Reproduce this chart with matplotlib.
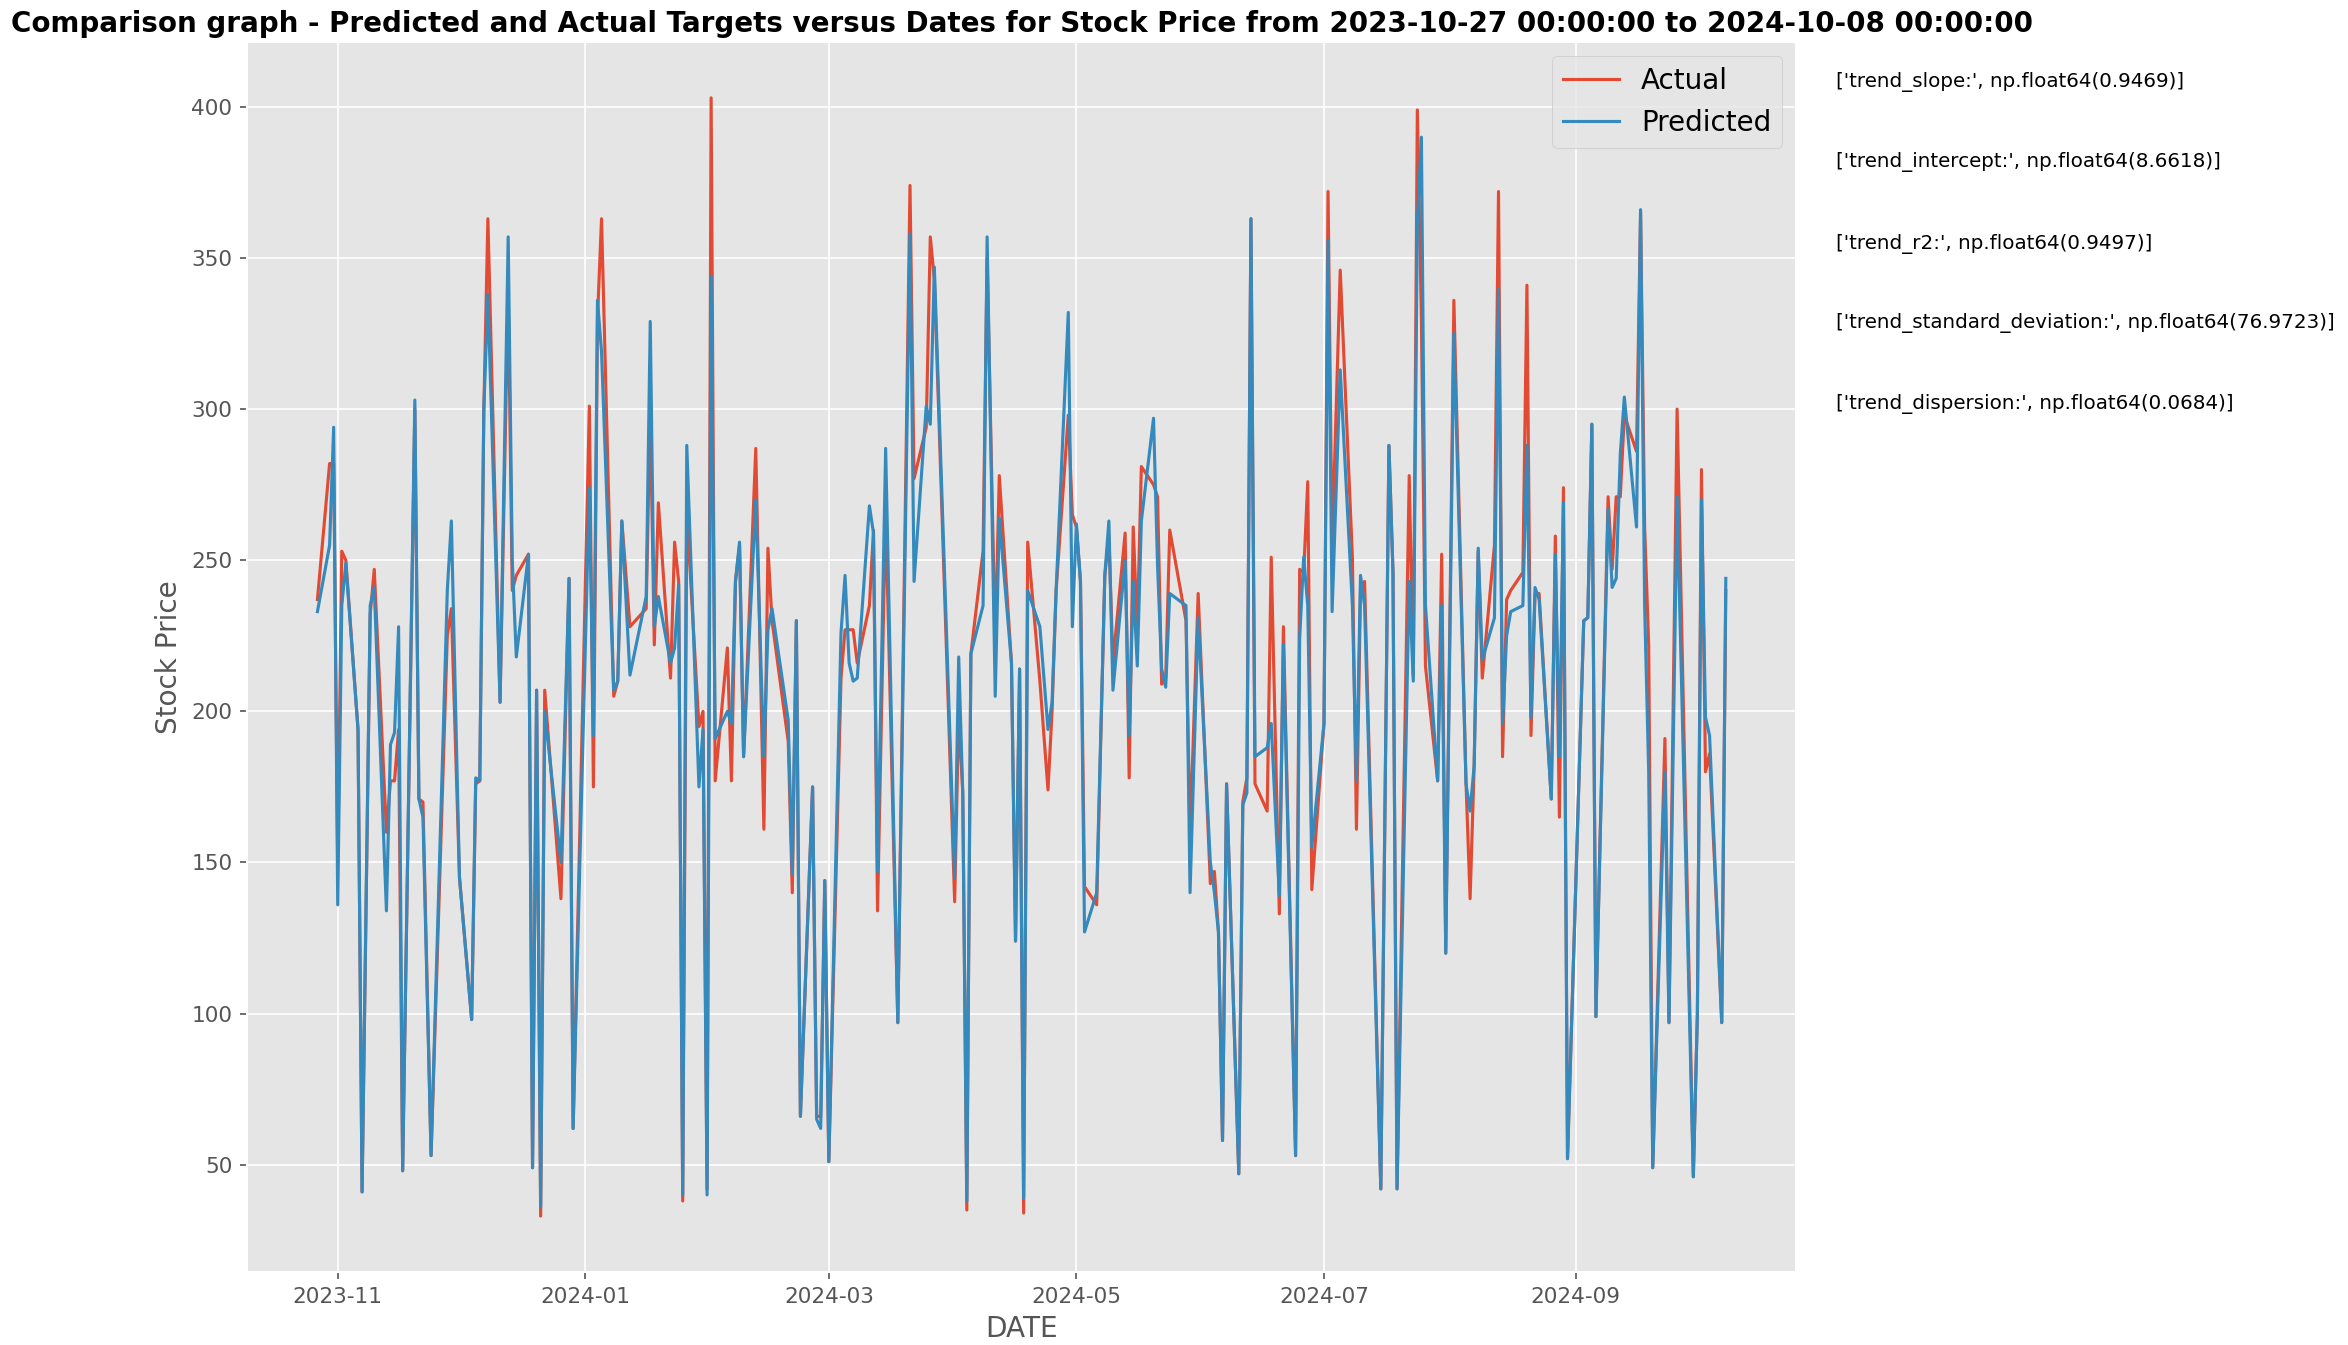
import matplotlib
matplotlib.use('Agg')
import matplotlib.pyplot as plt
import pandas as pd

# 日付と株価
dates = [
    '2023-10-27', '2023-10-30', '2023-10-31', '2023-11-01', '2023-11-02', '2023-11-03',
    '2023-11-06', '2023-11-07', '2023-11-09', '2023-11-10', '2023-11-13', '2023-11-14',
    '2023-11-15', '2023-11-16', '2023-11-17', '2023-11-20', '2023-11-21', '2023-11-22',
    '2023-11-24', '2023-11-28', '2023-11-29', '2023-12-01', '2023-12-04', '2023-12-05',
    '2023-12-06', '2023-12-07', '2023-12-08', '2023-12-11', '2023-12-13', '2023-12-14',
    '2023-12-15', '2023-12-18', '2023-12-19', '2023-12-20', '2023-12-21', '2023-12-22',
    '2023-12-26', '2023-12-28', '2023-12-29', '2024-01-02', '2024-01-03', '2024-01-04',
    '2024-01-05', '2024-01-08', '2024-01-09', '2024-01-10', '2024-01-12', '2024-01-16',
    '2024-01-17', '2024-01-18', '2024-01-19', '2024-01-22', '2024-01-23', '2024-01-24',
    '2024-01-25', '2024-01-26', '2024-01-29', '2024-01-30', '2024-01-31', '2024-02-01',
    '2024-02-02', '2024-02-05', '2024-02-06', '2024-02-07', '2024-02-08', '2024-02-09',
    '2024-02-12', '2024-02-14', '2024-02-15', '2024-02-16', '2024-02-20', '2024-02-21',
    '2024-02-22', '2024-02-23', '2024-02-26', '2024-02-27', '2024-02-28', '2024-02-29',
    '2024-03-01', '2024-03-04', '2024-03-05', '2024-03-06', '2024-03-07', '2024-03-08',
    '2024-03-11', '2024-03-12', '2024-03-13', '2024-03-15', '2024-03-18', '2024-03-21',
    '2024-03-22', '2024-03-25', '2024-03-26', '2024-03-27', '2024-04-01', '2024-04-02',
    '2024-04-03', '2024-04-04', '2024-04-05', '2024-04-08', '2024-04-09', '2024-04-11',
    '2024-04-12', '2024-04-15', '2024-04-16', '2024-04-17', '2024-04-18', '2024-04-19',
    '2024-04-22', '2024-04-24', '2024-04-25', '2024-04-26', '2024-04-29', '2024-04-30',
    '2024-05-01', '2024-05-02', '2024-05-03', '2024-05-06', '2024-05-08', '2024-05-09',
    '2024-05-10', '2024-05-13', '2024-05-14', '2024-05-15', '2024-05-16', '2024-05-17',
    '2024-05-20', '2024-05-21', '2024-05-22', '2024-05-23', '2024-05-24', '2024-05-28',
    '2024-05-29', '2024-05-31', '2024-06-03', '2024-06-04', '2024-06-05', '2024-06-06',
    '2024-06-07', '2024-06-10', '2024-06-11', '2024-06-12', '2024-06-13', '2024-06-14',
    '2024-06-17', '2024-06-18', '2024-06-20', '2024-06-21', '2024-06-24', '2024-06-25',
    '2024-06-26', '2024-06-27', '2024-06-28', '2024-07-01', '2024-07-02', '2024-07-03',
    '2024-07-05', '2024-07-08', '2024-07-09', '2024-07-10', '2024-07-11', '2024-07-15',
    '2024-07-17', '2024-07-18', '2024-07-19', '2024-07-22', '2024-07-23', '2024-07-24',
    '2024-07-25', '2024-07-26', '2024-07-29', '2024-07-30', '2024-07-31', '2024-08-02',
    '2024-08-05', '2024-08-06', '2024-08-07', '2024-08-08', '2024-08-09', '2024-08-12',
    '2024-08-13', '2024-08-14', '2024-08-15', '2024-08-16', '2024-08-19', '2024-08-20',
    '2024-08-21', '2024-08-22', '2024-08-23', '2024-08-26', '2024-08-27', '2024-08-28',
    '2024-08-29', '2024-08-30', '2024-09-03', '2024-09-04', '2024-09-05', '2024-09-06',
    '2024-09-09', '2024-09-10', '2024-09-11', '2024-09-12', '2024-09-13', '2024-09-16',
    '2024-09-17', '2024-09-18', '2024-09-19', '2024-09-20', '2024-09-23', '2024-09-24',
    '2024-09-26', '2024-09-30', '2024-10-01', '2024-10-02', '2024-10-03', '2024-10-04',
    '2024-10-07', '2024-10-08',
]

actual = [
    237, 282, 282, 150, 253, 250, 194, 41, 232, 247, 160, 177,
    177, 194, 48, 300, 171, 170, 53, 225, 234, 145, 98, 176,
    177, 300, 363, 203, 340, 240, 245, 252, 49, 207, 33, 207,
    138, 244, 62, 301, 175, 330, 363, 205, 210, 263, 228, 234,
    300, 222, 269, 211, 256, 243, 38, 266, 195, 200, 42, 403,
    177, 221, 177, 243, 255, 185, 287, 161, 254, 230, 190, 140,
    230, 66, 175, 66, 66, 144, 51, 211, 227, 227, 227, 216,
    235, 260, 134, 267, 97, 374, 277, 294, 357, 343, 137, 199,
    173, 35, 219, 253, 350, 222, 278, 216, 124, 214, 34, 256,
    210, 174, 200, 240, 298, 265, 261, 243, 142, 136, 245, 258,
    216, 259, 178, 261, 227, 281, 275, 271, 209, 211, 260, 230,
    159, 239, 143, 147, 127, 58, 176, 47, 170, 178, 363, 176,
    167, 251, 133, 228, 53, 247, 246, 276, 141, 196, 372, 254,
    346, 251, 161, 240, 243, 42, 288, 246, 42, 278, 212, 399,
    330, 215, 177, 252, 120, 336, 176, 138, 182, 253, 211, 255,
    372, 185, 237, 240, 246, 341, 192, 239, 239, 171, 258, 165,
    274, 52, 230, 231, 295, 99, 271, 247, 271, 271, 298, 286,
    365, 261, 222, 49, 191, 97, 300, 46, 100, 280, 180, 186,
    97, 240,
]

predicted = [
    233, 255, 294, 136, 235, 249, 194, 41, 235, 241, 134, 189,
    193, 228, 48, 303, 171, 165, 53, 240, 263, 145, 98, 178,
    177, 300, 338, 203, 357, 250, 218, 252, 49, 207, 36, 200,
    150, 244, 62, 274, 192, 336, 319, 207, 210, 263, 212, 238,
    329, 228, 238, 216, 221, 242, 40, 288, 175, 194, 40, 344,
    191, 200, 196, 243, 256, 185, 270, 185, 227, 234, 197, 146,
    230, 66, 175, 65, 62, 144, 51, 226, 245, 216, 210, 211,
    268, 259, 147, 287, 97, 358, 243, 301, 295, 347, 145, 218,
    173, 38, 219, 235, 357, 205, 264, 216, 124, 214, 39, 240,
    228, 194, 203, 240, 332, 228, 262, 243, 127, 140, 245, 263,
    207, 250, 192, 243, 215, 263, 297, 248, 214, 208, 239, 235,
    140, 231, 150, 140, 127, 58, 176, 47, 169, 173, 363, 185,
    188, 196, 139, 222, 53, 224, 251, 235, 155, 196, 356, 233,
    313, 235, 177, 245, 235, 42, 288, 246, 42, 243, 210, 362,
    390, 235, 177, 235, 120, 325, 176, 167, 182, 254, 217, 231,
    340, 196, 225, 233, 235, 288, 198, 241, 237, 171, 252, 185,
    269, 52, 230, 231, 295, 99, 267, 241, 244, 285, 304, 261,
    366, 235, 180, 49, 180, 97, 271, 46, 100, 270, 198, 192,
    97, 244,
]

stat_names = ['trend_slope:', 'trend_intercept:', 'trend_r2:',
              'trend_standard_deviation:', 'trend_dispersion:']
stat_values = ['0.9469', '8.6618', '0.9497', '76.9723', '0.0684']

plt.style.use('ggplot')

df = pd.DataFrame({'Date': pd.to_datetime(dates), 'Actual': actual, 'Predicted': predicted})

fig = plt.figure(figsize=(2348 / 150, 1345 / 150), dpi=150)
ax = fig.add_axes([0.1052, 0.0543, 0.6598, 0.9145])

ax.plot(df['Date'], df['Actual'], label='Actual')
ax.plot(df['Date'], df['Predicted'], label='Predicted')

start = df['Date'].iloc[0].strftime('%Y-%m-%d %H:%M:%S')
end = df['Date'].iloc[-1].strftime('%Y-%m-%d %H:%M:%S')
ax.set_title('Comparison graph - Predicted and Actual Targets versus Dates for Stock Price '
             'from ' + start + ' to ' + end, fontweight='bold', fontsize=13.3, color='black',
             pad=4.6)
ax.set_xlabel('DATE', fontsize=13.4)
ax.set_ylabel('Stock Price', fontsize=13.4)
ax.tick_params(labelsize=10.4)
ax.legend(loc='upper right', fontsize=13.3)

# 右側に統計量を表示
y_pos = [0.939, 0.8796, 0.8189, 0.7596, 0.700]
for name, val, y in zip(stat_names, stat_values, y_pos):
    fig.text(0.782, y, "['" + name + "', np.float64(" + val + ")]",
             fontsize=9.55, va='center', ha='left')

fig.savefig('out.png', dpi=150)
